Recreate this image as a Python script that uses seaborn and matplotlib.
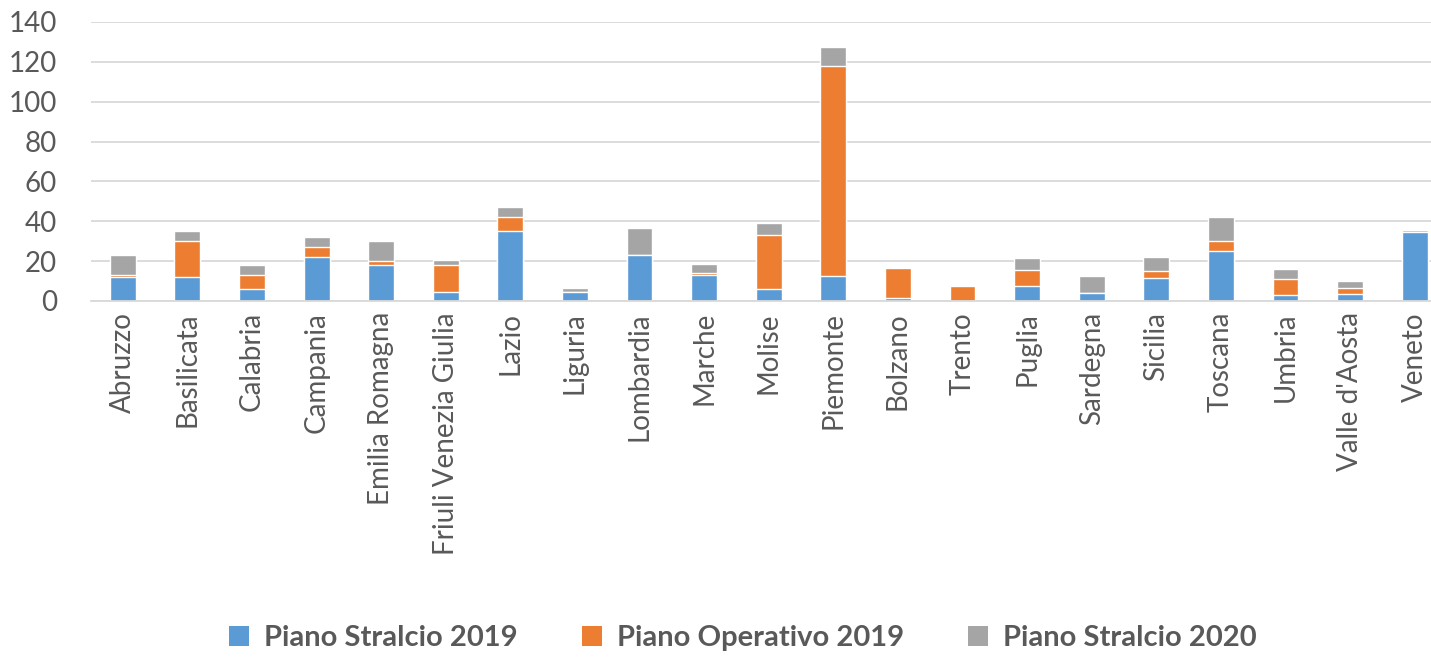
import numpy as np
import pandas as pd
import matplotlib
matplotlib.use("Agg")
import matplotlib.pyplot as plt
import seaborn as sns
from matplotlib.patches import Patch

regions = ["Abruzzo", "Basilicata", "Calabria", "Campania", "Emilia Romagna",
           "Friuli Venezia Giulia", "Lazio", "Liguria", "Lombardia", "Marche",
           "Molise", "Piemonte", "Bolzano", "Trento", "Puglia", "Sardegna",
           "Sicilia", "Toscana", "Umbria", "Valle d'Aosta", "Veneto"]
stralcio_2019 = [12, 12, 6, 22, 18, 4.5, 35, 4.5, 23, 13, 6, 12.5, 1.5, 0, 7.5, 4, 11.5, 25, 3, 3.5, 34.5]
operativo_2019 = [1, 18, 7, 5, 2, 13.5, 7, 0, 0, 1, 27, 105.5, 15, 7.5, 8, 0, 3.5, 5, 8, 3, 0]
stralcio_2020 = [10, 5, 5, 5, 10, 2.5, 5, 2, 13.5, 4.5, 6, 9.5, 0, 0, 6, 8.5, 7, 12, 5, 3.5, 1]
series_names = ["Piano Stralcio 2019", "Piano Operativo 2019", "Piano Stralcio 2020"]
colors = ["#5B9BD5", "#ED7D31", "#A5A5A5"]

df = pd.DataFrame({"region": regions, "s19": stralcio_2019,
                   "o19": operativo_2019, "s20": stralcio_2020})
df["c1"] = df["s19"]
df["c2"] = df["s19"] + df["o19"]
df["c3"] = df["c2"] + df["s20"]

sns.set_theme(style="white")
plt.rcParams["font.family"] = ["Lato", "DejaVu Sans"]

fig = plt.figure(figsize=(14.31, 6.59), dpi=100)
ax = fig.add_axes([90.5 / 1431, 1 - 301 / 659, (1447 - 90.5) / 1431, (301 - 22) / 659])

for col, colr in zip(["c3", "c2", "c1"], colors[::-1]):
    sns.barplot(data=df, x="region", y=col, color=colr, width=0.4,
                saturation=1, ax=ax, order=regions)

ax.set_ylim(0, 140)
ax.set_yticks(range(0, 141, 20))
ax.grid(axis="y", color="#D9D9D9", linewidth=1.3)
ax.set_axisbelow(True)
for s in ["top", "right", "left"]:
    ax.spines[s].set_visible(False)
ax.spines["bottom"].set_color("#D9D9D9")
ax.spines["bottom"].set_linewidth(1.3)
ax.set_xlabel("")
ax.set_ylabel("")
ax.tick_params(axis="both", length=0, colors="#595959", labelsize=20)
ax.tick_params(axis="x", pad=8)
ax.tick_params(axis="y", pad=24)
plt.setp(ax.get_xticklabels(), rotation=90)

handles = [Patch(facecolor=c, edgecolor="none") for c in colors]
fig.legend(handles, series_names, loc="center", bbox_to_anchor=(0.519, 1 - 638 / 659),
           ncol=3, frameon=False, handlelength=0.7, handleheight=0.7,
           columnspacing=2.2, handletextpad=0.5,
           prop={"size": 21, "weight": "bold"}, labelcolor="#595959")

fig.savefig("out.png", dpi=100)
